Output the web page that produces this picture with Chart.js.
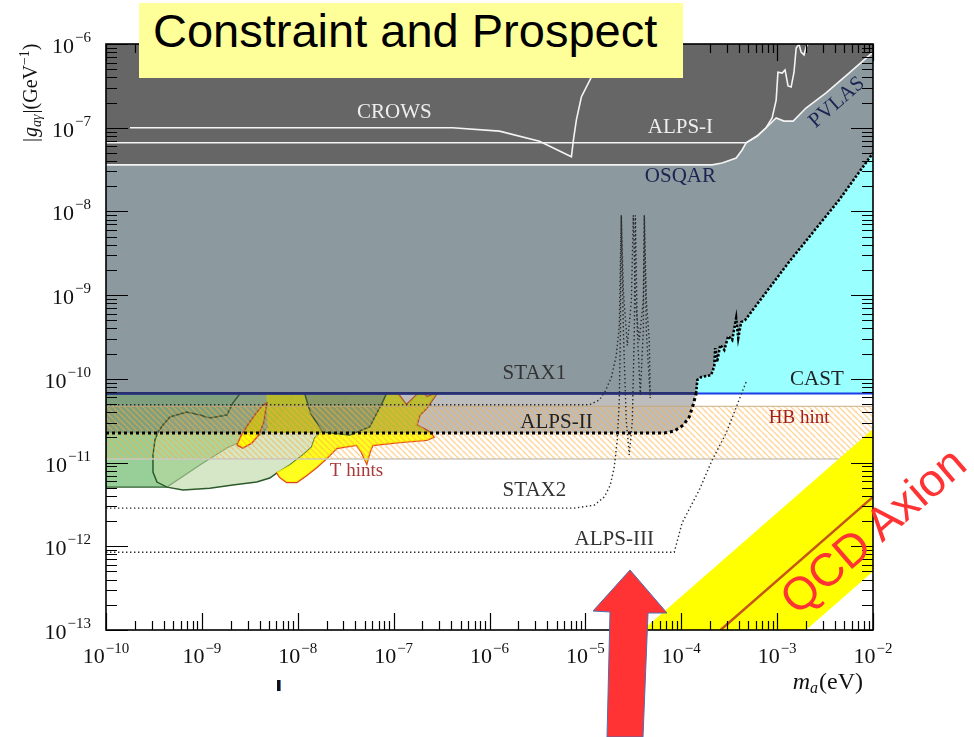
<!DOCTYPE html>
<html>
<head>
<meta charset="utf-8">
<script src="https://cdn.jsdelivr.net/npm/chart.js@4.4.1/dist/chart.umd.min.js"></script>
<style>
  body { margin: 0; background: #fff; }
  #wrap { position: relative; width: 974px; height: 737px; overflow: hidden; }
  #c { position: absolute; left: 0; top: 0; }
  #title { position: absolute; left: 139px; top: 3px; width: 544px; height: 75px; box-sizing: border-box;
           padding-left: 14px; background: #ffff99; color: #000; line-height: 75px;
           font: 47px "Liberation Sans", Arial, sans-serif; white-space: nowrap; }
  #qcd { position: absolute; left: 720px; top: 504px; width: 300px; height: 46px; line-height: 46px;
         text-align: center; font: 46px "Liberation Sans", Arial, sans-serif; color: #ff3333;
         transform: rotate(-40.8deg); white-space: nowrap; }
  #mark { position: absolute; left: 277px; top: 680px; width: 3px; height: 11px; background: #111;
          border-right: 1px solid #4a7fd0; }
</style>
</head>
<body>
<div id="wrap">
  <canvas id="c" width="974" height="737"></canvas>
  <div id="title">Constraint and Prospect</div>
  <div id="qcd">QCD Axion</div>
  <svg width="974" height="737" style="position:absolute;left:0;top:0">
    <polygon points="630,570 667,613 648,613 643,737 607,737 610,612 593,611" fill="#ff3333" stroke="#4a6fb5" stroke-width="1"/>
  </svg>
  <div id="mark"></div>
</div>
<script>
// axis decades (tick labels are 10^d)
const xDecades = [-10, -9, -8, -7, -6, -5, -4, -3, -2];
const yDecades = [-13, -12, -11, -10, -9, -8, -7, -6];

// [m_a (eV), g (GeV^-1)] pairs
const osqarPvlas = [
  [1e-10, 3.6e-8], [2.1e-4, 3.6e-8], [2.67e-4, 3.79e-8], [3.74e-4, 4.35e-8], [4.31e-4, 5.42e-8],
  [4.75e-4, 6.6e-8], [6.19e-4, 7.96e-8], [7.67e-4, 1.0e-7], [9.77e-4, 1.31e-7], [1.18e-3, 1.2e-7],
  [1.47e-3, 1.2e-7], [2.0e-3, 1.72e-7], [3.24e-3, 2.6e-7], [5.62e-3, 4.5e-7], [1e-2, 8.0e-7]
];
const alps1 = [
  [1e-10, 6.6e-8], [4.75e-4, 6.6e-8], [6.19e-4, 7.96e-8], [7.67e-4, 1.0e-7], [8.87e-4, 1.31e-7],
  [9.77e-4, 2.14e-7], [1.02e-3, 4.6e-7], [1.13e-3, 4.5e-7], [1.21e-3, 4.9e-7], [1.30e-3, 3.15e-7],
  [1.40e-3, 3.06e-7], [1.50e-3, 4.6e-7], [1.58e-3, 8.95e-7], [1.69e-3, 1e-6], [1.78e-3, 8.0e-7],
  [1.91e-3, 7.4e-7], [2.0e-3, 9.2e-7], [2.1e-3, 1e-6]
];
const crows = [
  [1.78e-10, 1.0e-7], [4.1e-7, 1.0e-7], [1.27e-6, 9.1e-8], [3.32e-6, 6.9e-8], [7.15e-6, 4.5e-8],
  [7.5e-6, 7.1e-8], [8.06e-6, 1.24e-7], [9.08e-6, 2.33e-7], [1.155e-5, 4.03e-7], [1.58e-5, 8.5e-7], [1.69e-5, 1e-6]
];
const castEdge = [
  [1e-10, 6.7e-11], [1.43e-4, 6.7e-11], [1.47e-4, 9.7e-11], [1.62e-4, 1.05e-10], [2.05e-4, 1.11e-10],
  [2.21e-4, 1.42e-10], [2.26e-4, 2.33e-10], [2.37e-4, 1.59e-10], [2.55e-4, 2.54e-10], [2.81e-4, 2.21e-10],
  [3.09e-4, 3.24e-10], [3.40e-4, 2.91e-10], [3.74e-4, 5.32e-10], [3.93e-4, 3.07e-10], [4.22e-4, 4.77e-10],
  [4.64e-4, 5.04e-10], [1.33e-3, 2.49e-9], [4.43e-3, 1.37e-8], [1e-2, 5.0e-8]
];
const castLine = [[1e-10, 6.7e-11], [1e-2, 6.7e-11]];
const alps2 = [
  [1e-10, 2.25e-11], [6.65e-5, 2.25e-11], [8.45e-5, 2.38e-11], [1.05e-4, 2.8e-11],
  [1.21e-4, 3.5e-11], [1.33e-4, 4.87e-11], [1.43e-4, 6.7e-11]
];
const stax1 = [
  [1e-10, 4.9e-11], [1.10e-5, 4.9e-11], [1.40e-5, 5.6e-11], [1.62e-5, 7.2e-11], [1.87e-5, 1.05e-10],
  [2.10e-5, 1.9e-10], [2.26e-5, 4.4e-10], [2.32e-5, 2.6e-9], [2.37e-5, 9e-9], [2.49e-5, 1.15e-9],
  [2.74e-5, 2.5e-10], [3.02e-5, 8.7e-10], [3.16e-5, 9e-9], [3.32e-5, 8.7e-10], [3.65e-5, 2.9e-10],
  [4.02e-5, 8.7e-10], [4.12e-5, 9e-9], [4.32e-5, 8.7e-10], [4.64e-5, 2.9e-10], [4.75e-5, 5.9e-11]
];
const stax2 = [
  [1e-10, 2.86e-12], [7.67e-6, 2.86e-12], [1.24e-5, 3.1e-12], [1.58e-5, 3.9e-12], [1.82e-5, 5.4e-12],
  [2.00e-5, 8.8e-12], [2.15e-5, 1.86e-11], [2.26e-5, 5.6e-11], [2.32e-5, 3.8e-10], [2.37e-5, 9e-9],
  [2.49e-5, 3.8e-10], [2.67e-5, 3.2e-11], [2.87e-5, 1.23e-11], [3.09e-5, 3.2e-11], [3.24e-5, 3.8e-10],
  [3.32e-5, 9e-9], [3.48e-5, 3.8e-10], [3.74e-5, 6.4e-11], [4.02e-5, 3.8e-10], [4.12e-5, 9e-9],
  [4.32e-5, 3.8e-10], [4.75e-5, 5.9e-11]
];
const alps3 = [
  [1e-10, 8.5e-13], [8.45e-5, 8.5e-13], [1.02e-4, 1.9e-12], [1.54e-4, 4.7e-12],
  [2.10e-4, 1.07e-11], [2.94e-4, 2.25e-11], [4.75e-4, 9.2e-11]
];
const hbTop = [[1e-10, 4.7e-11], [1e-2, 4.7e-11]];
const hbBottom = [[1e-10, 1.1e-11], [1e-2, 1.1e-11]];
const qcdBand = [[3.98e-5, 1e-13], [1e-2, 2.51e-11], [1e-2, 5.0e-13], [2.0e-3, 1e-13], [3.98e-5, 1e-13]];
const qcdLine = [[2.57e-4, 1e-13], [1e-2, 3.89e-12]];

// closed outlines of the hint / astro regions
const blobSN = [
  [1e-10, 1e-10], [1.05e-8, 1e-10], [9.31e-9, 6.7e-11], [6.49e-9, 3.7e-11], [4.02e-9, 2.13e-11],
  [2.49e-9, 1.76e-11], [1.82e-9, 1.49e-11], [9.53e-10, 9.33e-12], [4.32e-10, 5.09e-12],
  [1e-10, 5.09e-12], [1e-10, 1e-10]
];
const blobBig = [
  [3.09e-10, 1.23e-11], [3.24e-10, 1.86e-11], [3.48e-10, 2.31e-11], [3.93e-10, 2.81e-11], [4.64e-10, 3.5e-11],
  [6.98e-10, 4.01e-11], [9.53e-10, 3.7e-11], [1.21e-9, 3.4e-11], [1.82e-9, 3.7e-11], [2.10e-9, 5.14e-11],
  [2.67e-9, 7.35e-11], [3.16e-9, 1e-10], [3.93e-8, 1e-10], [3.32e-8, 6.7e-11], [2.74e-8, 4.24e-11],
  [2.15e-8, 3.05e-11], [1.78e-8, 2.31e-11], [1.50e-8, 1.96e-11], [1.40e-8, 1.53e-11], [1.13e-8, 1.23e-11],
  [8.25e-9, 9.33e-12], [6.04e-9, 7.5e-12], [5.10e-9, 6.53e-12], [3.74e-9, 5.85e-12], [2.10e-9, 5.38e-12],
  [1.21e-9, 4.95e-12], [6.34e-10, 4.69e-12], [4.32e-10, 5.09e-12], [3.40e-10, 5.85e-12], [3.09e-10, 7.69e-12],
  [3.09e-10, 1.23e-11]
];
const blobArc = [
  [1.18e-8, 1e-10], [8.66e-8, 1e-10], [8.45e-8, 6.7e-11], [7.67e-8, 5.28e-11], [5.62e-8, 2.66e-11],
  [3.48e-8, 2.13e-11], [1.82e-8, 2.31e-11], [1.36e-8, 3.9e-11], [1.18e-8, 6.7e-11], [1.18e-8, 1e-10]
];
const tLobe = [
  [2.32e-9, 1.62e-11], [2.55e-9, 2.07e-11], [3.01e-9, 2.81e-11], [3.56e-9, 3.7e-11], [4.22e-9, 4.73e-11],
  [4.75e-9, 5.14e-11], [4.43e-9, 3.05e-11], [3.93e-9, 2.13e-11], [3.32e-9, 1.71e-11], [2.67e-9, 1.49e-11],
  [2.32e-9, 1.62e-11]
];
const tHints = [
  [4.64e-9, 1e-10], [1.02e-7, 1e-10], [1.10e-7, 6.7e-11], [1.36e-7, 4.86e-11], [1.74e-7, 6.4e-11],
  [2.00e-7, 6.95e-11], [2.21e-7, 6.06e-11], [2.81e-7, 6.7e-11], [2.21e-7, 4.48e-11], [1.87e-7, 3.7e-11],
  [1.74e-7, 2.81e-11], [2.37e-7, 2.31e-11], [2.61e-7, 2.02e-11], [2.21e-7, 1.86e-11], [1.24e-7, 1.76e-11],
  [6.04e-8, 1.62e-11], [5.62e-8, 1.33e-11], [5.24e-8, 9.86e-12], [4.64e-8, 1.33e-11], [4.12e-8, 1.62e-11],
  [2.55e-8, 1.49e-11], [2.00e-8, 1.13e-11], [1.58e-8, 8.83e-12], [1.24e-8, 7.1e-12], [9.77e-9, 5.85e-12],
  [7.67e-9, 5.85e-12], [6.49e-9, 6.71e-12], [6.04e-9, 7.69e-12], [8.25e-9, 9.33e-12], [1.13e-8, 1.23e-11],
  [1.40e-8, 1.53e-11], [1.50e-8, 1.96e-11], [1.69e-8, 2.25e-11], [4.87e-9, 2.25e-11], [4.64e-9, 1e-10]
];
const tHintsOutlineEnd = 28; // red outline stops where the green region's border takes over

const labels = [
  { text: 'CROWS', x: 1.02e-7, y: 1.5e-7, color: '#eeeeee' },
  { text: 'ALPS-I', x: 9.8e-5, y: 1.0e-7, color: '#eeeeee' },
  { text: 'OSQAR', x: 9.8e-5, y: 2.6e-8, color: '#1c2452' },
  { text: 'PVLAS', x: 4.2e-3, y: 2.0e-7, color: '#1c2452', rot: -41 },
  { text: 'STAX1', x: 2.94e-6, y: 1.17e-10, color: '#333333' },
  { text: 'ALPS-II', x: 5.0e-6, y: 3.05e-11, color: '#222222' },
  { text: 'CAST', x: 2.6e-3, y: 9.7e-11, color: '#222222' },
  { text: 'HB hint', x: 1.7e-3, y: 3.4e-11, color: '#a31d1d', size: 19 },
  { text: 'T hints', x: 4.1e-8, y: 7.9e-12, color: '#a8393a', size: 19 },
  { text: 'STAX2', x: 2.94e-6, y: 4.7e-12, color: '#333333' },
  { text: 'ALPS-III', x: 2.0e-5, y: 1.19e-12, color: '#333333' }
];

const SERIF = '"Liberation Serif", "DejaVu Serif", serif';
const pts = a => a.map(([x, y]) => ({ x, y }));

function logTicks(decades) {
  const t = [];
  decades.forEach((d, i) => {
    t.push({ value: Math.pow(10, d), major: true });
    if (i < decades.length - 1) {
      for (let k = 2; k <= 9; k++) t.push({ value: k * Math.pow(10, d), major: false });
    }
  });
  return t;
}

const canvas = document.getElementById('c');
const ctx = canvas.getContext('2d');

function hatchPattern() {
  const s = 6;
  const tile = document.createElement('canvas');
  tile.width = tile.height = s;
  const g = tile.getContext('2d');
  g.strokeStyle = 'rgba(255,175,60,0.5)';
  g.lineWidth = 1.5;
  g.beginPath();
  for (let k = -1; k <= 1; k++) { g.moveTo(k * s, 0); g.lineTo(k * s + s, s); }
  g.stroke();
  return ctx.createPattern(tile, 'repeat');
}

const labelPlugin = {
  id: 'regionLabels',
  afterDatasetsDraw(chart) {
    const { ctx, scales: { x, y } } = chart;
    labels.forEach(l => {
      ctx.save();
      ctx.font = (l.size || 21) + 'px ' + SERIF;
      ctx.fillStyle = l.color;
      ctx.textAlign = 'center';
      ctx.textBaseline = 'middle';
      ctx.translate(x.getPixelForValue(l.x), y.getPixelForValue(l.y));
      if (l.rot) ctx.rotate(l.rot * Math.PI / 180);
      ctx.fillText(l.text, 0, 0);
      ctx.restore();
    });
  }
};

function drawParts(ctx, parts, x0, y0) {
  let x = x0;
  parts.forEach(p => {
    ctx.font = p.font;
    ctx.fillText(p.t, x, y0 + (p.dy || 0));
    x += ctx.measureText(p.t).width + (p.gap || 0);
  });
  return x - x0;
}
function partsWidth(ctx, parts) {
  let w = 0;
  parts.forEach(p => { ctx.font = p.font; w += ctx.measureText(p.t).width + (p.gap || 0); });
  return w;
}

const axisPlugin = {
  id: 'inwardAxes',
  afterDraw(chart) {
    const { ctx, chartArea: a, scales: { x, y } } = chart;
    ctx.save();
    ctx.strokeStyle = '#000';
    ctx.lineWidth = 1.2;
    ctx.beginPath();
    x.ticks.forEach(t => {
      const px = Math.round(x.getPixelForValue(t.value)) + 0.5;
      const len = t.major ? 17 : 9;
      ctx.moveTo(px, a.bottom); ctx.lineTo(px, a.bottom - len);
      ctx.moveTo(px, a.top); ctx.lineTo(px, a.top + len);
    });
    y.ticks.forEach(t => {
      const py = Math.round(y.getPixelForValue(t.value)) + 0.5;
      const len = t.major ? 22 : 11;
      ctx.moveTo(a.left, py); ctx.lineTo(a.left + len, py);
      ctx.moveTo(a.right, py); ctx.lineTo(a.right - len, py);
    });
    ctx.stroke();
    ctx.lineWidth = 1.6;
    ctx.strokeRect(a.left, a.top, a.right - a.left, a.bottom - a.top);

    // tick labels 10^d
    ctx.fillStyle = '#111';
    ctx.textBaseline = 'alphabetic';
    ctx.textAlign = 'left';
    const base = '22px ' + SERIF, sup = '15px ' + SERIF;
    xDecades.forEach(d => {
      const parts = [{ t: '10', font: base, gap: 1 }, { t: '\u2212' + Math.abs(d), font: sup, dy: -10 }];
      const w = partsWidth(ctx, parts);
      drawParts(ctx, parts, x.getPixelForValue(Math.pow(10, d)) - w / 2, a.bottom + 33);
    });
    yDecades.forEach(d => {
      const parts = [{ t: '10', font: base, gap: 1 }, { t: '\u2212' + Math.abs(d), font: sup, dy: -11 }];
      const w = partsWidth(ctx, parts);
      drawParts(ctx, parts, a.left - 15 - w, y.getPixelForValue(Math.pow(10, d)) + 9);
    });

    // axis titles
    const xt = [
      { t: 'm', font: 'italic 24px ' + SERIF },
      { t: 'a', font: 'italic 16px ' + SERIF, dy: 4, gap: 1 },
      { t: '(eV)', font: '24px ' + SERIF }
    ];
    drawParts(ctx, xt, a.right - 10 - partsWidth(ctx, xt), a.bottom + 59);

    ctx.translate(37, 142);
    ctx.rotate(-Math.PI / 2);
    drawParts(ctx, [
      { t: '|', font: '20px ' + SERIF, gap: 1 },
      { t: 'g', font: 'italic 20px ' + SERIF },
      { t: 'a\u03b3', font: 'italic 14px ' + SERIF, dy: 4, gap: 1 },
      { t: '|(GeV', font: '20px ' + SERIF },
      { t: '\u22121', font: '14px ' + SERIF, dy: -8 },
      { t: ')', font: '20px ' + SERIF }
    ], 0, 0);
    ctx.restore();
  }
};

const flat = c => c.p0.parsed.y === c.p1.parsed.y;
const datasets = [
  { data: pts(blobSN), fill: 'shape', backgroundColor: 'rgba(50,160,50,0.5)', borderColor: '#2f5f2f', borderWidth: 1.2, order: 20 },
  { data: pts(blobBig), fill: 'shape', backgroundColor: 'rgba(185,215,160,0.6)', borderColor: '#2b5a2b', borderWidth: 1.5, order: 19 },
  { data: pts(tHints), fill: 'shape', backgroundColor: 'rgba(255,255,0,0.88)', borderWidth: 0, order: 18 },
  { data: pts(tHints.slice(0, tHintsOutlineEnd)), fill: false, borderColor: '#e0461e', borderWidth: 2.2, order: 18 },
  { data: pts(tLobe), fill: 'shape', backgroundColor: '#ffff00', borderColor: '#d9541e', borderWidth: 1.5, order: 17 },
  { data: pts(blobArc), fill: 'shape', backgroundColor: 'rgba(150,185,140,0.8)', borderColor: '#2b5a2b', borderWidth: 1.5, order: 16 },
  { data: pts(alps2), fill: { value: 6.7e-11 }, backgroundColor: 'rgba(86,86,86,0.39)', borderWidth: 0, order: 15 },
  { data: pts(hbTop), fill: { value: 1.1e-11 }, backgroundColor: hatchPattern(), borderColor: 'rgba(200,165,120,0.9)', borderWidth: 1, order: 14 },
  { data: pts(hbBottom), fill: false, borderColor: '#c8c8c8', borderWidth: 1.5, order: 14 },
  { data: pts(qcdBand), fill: 'shape', backgroundColor: '#ffff00', borderWidth: 0, order: 13 },
  { data: pts(qcdLine), fill: false, borderColor: '#c4561c', borderWidth: 2.5, order: 12 },
  { data: pts(castLine), fill: 'end', backgroundColor: '#99ffff', borderColor: '#1a3ce6', borderWidth: 2, order: 11 },
  { data: pts(castEdge), fill: 'end', backgroundColor: '#8c9aa0', borderWidth: 0, order: 10 },
  { data: pts(osqarPvlas), fill: 'end', backgroundColor: '#666666', borderColor: '#f4f4f4', borderWidth: 1.6, order: 9 },
  { data: pts(castEdge), fill: false, borderColor: '#000', borderWidth: 2.6, borderDash: [2.4, 1.8], order: 8,
    segment: { borderColor: c => flat(c) ? '#283070' : undefined, borderDash: c => flat(c) ? [] : undefined } },
  { data: pts(crows), fill: false, borderColor: '#f4f4f4', borderWidth: 1.6, order: 8 },
  { data: pts(alps1), fill: false, borderColor: '#f4f4f4', borderWidth: 1.6, order: 8 },
  { data: pts(stax1), fill: false, borderColor: '#2a2a2a', borderWidth: 1.4, borderDash: [1.4, 2.6], order: 7 },
  { data: pts(stax2), fill: false, borderColor: '#2a2a2a', borderWidth: 1.4, borderDash: [1.4, 2.6], order: 7 },
  { data: pts(alps3), fill: false, borderColor: '#2a2a2a', borderWidth: 1.4, borderDash: [1.4, 2.6], order: 7 },
  { data: pts(alps2), fill: false, borderColor: '#000', borderWidth: 3, borderDash: [3, 3], order: 6 }
];

new Chart(ctx, {
  type: 'line',
  data: { datasets },
  options: {
    responsive: false,
    devicePixelRatio: 1,
    animation: false,
    events: [],
    layout: { padding: { left: 0, top: 44, right: 101, bottom: 0 } },
    elements: { point: { radius: 0, hitRadius: 0 }, line: { tension: 0 } },
    plugins: { legend: { display: false }, tooltip: { enabled: false } },
    scales: {
      x: {
        type: 'logarithmic', min: 1e-10, max: 1e-2,
        grid: { display: false }, border: { display: false }, ticks: { display: false },
        afterBuildTicks: s => { s.ticks = logTicks(xDecades); },
        afterFit: s => { s.height = 107; }
      },
      y: {
        type: 'logarithmic', min: 1e-13, max: 1e-6,
        grid: { display: false }, border: { display: false }, ticks: { display: false },
        afterBuildTicks: s => { s.ticks = logTicks(yDecades); },
        afterFit: s => { s.width = 106; }
      }
    }
  },
  plugins: [labelPlugin, axisPlugin]
});
</script>
</body>
</html>
